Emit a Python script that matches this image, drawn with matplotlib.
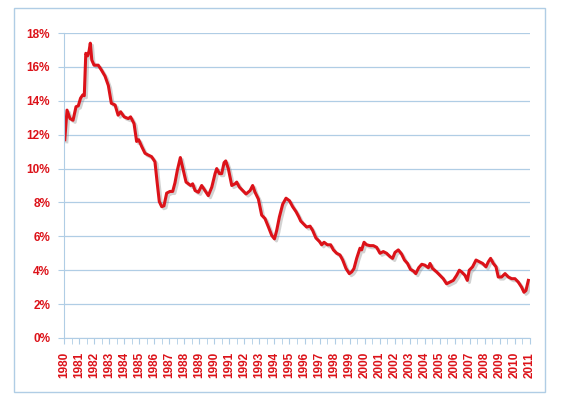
import matplotlib
matplotlib.use('Agg')
import matplotlib.pyplot as plt
import matplotlib.patheffects as pe
from matplotlib.patches import Rectangle
from matplotlib.ticker import FuncFormatter, MultipleLocator

years = [1980.05, 1980.2, 1980.4, 1980.6, 1980.8, 1980.95, 1981.1, 1981.25, 1981.35,
         1981.45, 1981.57, 1981.67, 1981.75, 1981.85, 1982.0, 1982.28, 1982.5, 1982.73,
         1982.95, 1983.15, 1983.4, 1983.6, 1983.77, 1984.0, 1984.28, 1984.43, 1984.66,
         1984.83, 1984.97, 1985.17, 1985.39, 1985.6, 1985.83, 1986.05, 1986.2, 1986.34,
         1986.5, 1986.65, 1986.83, 1987.05, 1987.23, 1987.38, 1987.54, 1987.74, 1987.94,
         1988.12, 1988.27, 1988.43, 1988.56, 1988.72, 1988.94, 1989.16, 1989.38, 1989.6,
         1989.83, 1990.05, 1990.16, 1990.34, 1990.49, 1990.65, 1990.76, 1990.93, 1991.16,
         1991.38, 1991.49, 1991.67, 1991.89, 1992.11, 1992.38, 1992.55, 1992.71, 1992.93,
         1993.15, 1993.37, 1993.6, 1993.82, 1994.0, 1994.15, 1994.33, 1994.55, 1994.77,
         1995.0, 1995.21, 1995.44, 1995.62, 1995.75, 1995.92, 1996.14, 1996.37, 1996.54,
         1996.76, 1996.99, 1997.14, 1997.3, 1997.52, 1997.74, 1997.92, 1998.14, 1998.36,
         1998.54, 1998.76, 1998.98, 1999.14, 1999.29, 1999.47, 1999.69, 1999.8, 1999.96,
         2000.13, 2000.36, 2000.58, 2000.8, 2001.02, 2001.24, 2001.46, 2001.69, 2001.86,
         2002.02, 2002.24, 2002.46, 2002.65, 2002.85, 2003.05, 2003.25, 2003.4, 2003.6,
         2003.8, 2004.0, 2004.24, 2004.35, 2004.52, 2004.79, 2005.01, 2005.23, 2005.45,
         2005.68, 2005.9, 2006.12, 2006.3, 2006.45, 2006.67, 2006.83, 2006.96, 2007.18,
         2007.41, 2007.63, 2007.85, 2008.07, 2008.23, 2008.38, 2008.56, 2008.74, 2008.89,
         2009.11, 2009.34, 2009.56, 2009.78, 2010.0, 2010.22, 2010.44, 2010.6, 2010.73,
         2010.89]

rates = [11.7, 13.45, 12.95, 12.85, 13.65, 13.7, 14.15, 14.35, 14.3,
         16.8, 16.65, 16.95, 17.4, 16.4, 16.1, 16.1, 15.8, 15.45,
         14.9, 13.85, 13.75, 13.15, 13.35, 13.05, 12.95, 13.05, 12.65,
         11.6, 11.7, 11.3, 10.9, 10.8, 10.7, 10.4, 9.15, 8.05,
         7.75, 7.8, 8.55, 8.65, 8.65, 9.15, 9.9, 10.65, 9.9,
         9.2, 9.1, 9.0, 9.1, 8.7, 8.6, 9.0, 8.7, 8.4,
         8.9, 9.7, 10.0, 9.7, 9.7, 10.35, 10.45, 10.0, 9.0,
         9.1, 9.2, 8.9, 8.7, 8.5, 8.7, 9.0, 8.6, 8.2,
         7.25, 7.05, 6.55, 6.05, 5.85, 6.35, 7.15, 7.9, 8.25,
         8.1, 7.75, 7.45, 7.15, 6.9, 6.75, 6.55, 6.6, 6.35,
         5.9, 5.7, 5.5, 5.65, 5.5, 5.5, 5.2, 5.0, 4.9,
         4.6, 4.1, 3.8, 3.9, 4.1, 4.7, 5.3, 5.2, 5.65,
         5.5, 5.45, 5.45, 5.35, 5.0, 5.1, 5.0, 4.8, 4.7,
         5.05, 5.2, 4.95, 4.6, 4.4, 4.05, 3.95, 3.8, 4.15,
         4.35, 4.3, 4.15, 4.4, 4.1, 3.9, 3.7, 3.5, 3.2,
         3.3, 3.4, 3.7, 4.0, 3.9, 3.7, 3.4, 4.0, 4.2,
         4.6, 4.5, 4.4, 4.2, 4.5, 4.7, 4.4, 4.2, 3.6,
         3.6, 3.8, 3.6, 3.5, 3.5, 3.3, 3.0, 2.7, 2.8,
         3.4]

year_labels = list(range(1980, 2012))
pct_ticks = [0, 2, 4, 6, 8, 10, 12, 14, 16, 18]

red = '#dc1219'
blue = '#b0cde5'

fig = plt.figure(figsize=(5.66, 4.08), dpi=100)
ax = fig.add_axes([64 / 566, 1 - 338 / 408, 466 / 566, 305 / 408])

# outer chart frame
fig.patches.append(Rectangle((14 / 566, 1 - 392 / 408), 531 / 566, 384 / 408,
                             transform=fig.transFigure, fill=False,
                             edgecolor=blue, linewidth=1.0))

ax.plot(years, rates, color=red, linewidth=2.2, solid_joinstyle='round',
        path_effects=[pe.SimpleLineShadow(offset=(1.5, -1.5), shadow_color='gray', alpha=0.35),
                      pe.Normal()])

ax.set_xlim(1980, 2011)
ax.set_ylim(0, 18)
ax.set_yticks(pct_ticks)
ax.yaxis.set_major_formatter(FuncFormatter(lambda v, p: '%d%%' % v))
ax.set_xticks(year_labels)
ax.set_xticklabels([str(y) for y in year_labels], rotation=90)
ax.xaxis.set_minor_locator(MultipleLocator(0.5))

ax.grid(axis='y', color=blue, linewidth=0.9)
ax.set_axisbelow(True)
for side in ['top', 'right']:
    ax.spines[side].set_visible(False)
for side in ['left', 'bottom']:
    ax.spines[side].set_color(blue)

ax.tick_params(axis='both', which='both', color=blue, length=4, labelcolor=red)
ax.tick_params(axis='y', pad=6)
ax.tick_params(axis='x', pad=6)
for lab in ax.get_xticklabels() + ax.get_yticklabels():
    lab.set_fontfamily('Liberation Sans')
    lab.set_fontweight('bold')
    lab.set_fontsize(8.5)

fig.savefig('out.png', dpi=100)
